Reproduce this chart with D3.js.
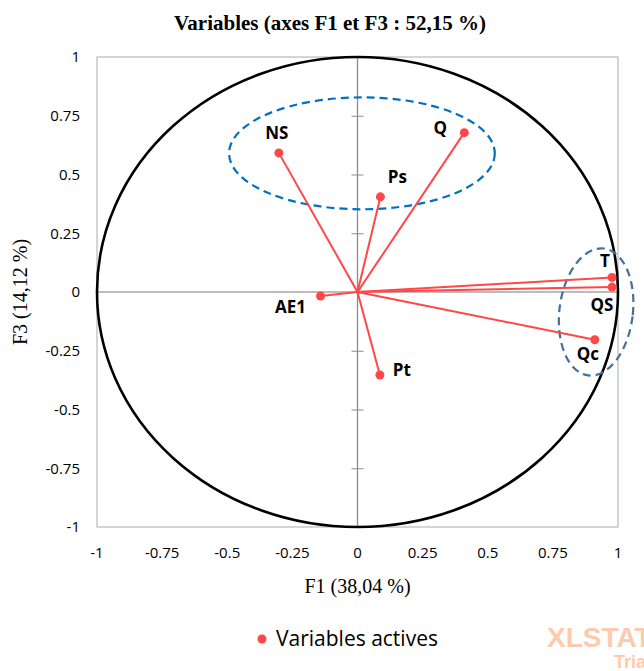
<!DOCTYPE html>
<html>
<head>
<meta charset="utf-8">
<script src="https://cdn.jsdelivr.net/npm/d3@7"></script>
<style>
  body { margin: 0; background: #fff; }
  svg { display: block; }
  .tick-label { font-family: 'Open Sans', sans-serif; font-size: 15px; fill: #000; }
  .var-label { font-family: 'Open Sans', sans-serif; font-weight: bold; font-size: 17px; fill: #000; }
  .serif { font-family: 'Liberation Serif', 'Times New Roman', serif; fill: #000; }
</style>
</head>
<body>
<svg id="chart"></svg>
<script>
// variable names and their coordinates on F1 / F3
const variables = ['NS', 'Q', 'Ps', 'AE1', 'Pt', 'T', 'QS', 'Qc'];
const f1Values = [-0.302, 0.410, 0.088, -0.142, 0.086, 0.977, 0.977, 0.911];
const f3Values = [0.592, 0.678, 0.405, -0.017, -0.353, 0.062, 0.021, -0.203];
const tickValues = [-1, -0.75, -0.5, -0.25, 0, 0.25, 0.5, 0.75, 1];

// label placement next to each point (pixels)
const labelOffsets = {
  NS: [-2, -14], Q: [-24, 1], Ps: [17, -14], AE1: [-30, 17],
  Pt: [22, 1], T: [-7, -10], QS: [-10, 24], Qc: [-7, 20]
};

const W = 644, H = 671;
const margin = { top: 57, right: 26, bottom: 144, left: 97 };
const width = W - margin.left - margin.right;
const height = H - margin.top - margin.bottom;

const svg = d3.select('#chart').attr('width', W).attr('height', H);

const x = d3.scaleLinear().domain([-1, 1]).range([margin.left, margin.left + width]);
const y = d3.scaleLinear().domain([-1, 1]).range([margin.top + height, margin.top]);

// title
svg.append('text')
  .attr('class', 'serif')
  .attr('x', 330).attr('y', 30)
  .attr('text-anchor', 'middle')
  .style('font-size', '21px').style('font-weight', 'bold')
  .text('Variables (axes F1 et F3 : 52,15 %)');

// plot border
svg.append('rect')
  .attr('x', x(-1)).attr('y', y(1))
  .attr('width', x(1) - x(-1)).attr('height', y(-1) - y(1))
  .attr('fill', 'none').attr('stroke', '#BFBFBF').attr('stroke-width', 1.3);

// zero axes, tick crosses only on the vertical one
svg.append('line')
  .attr('x1', x(-1)).attr('x2', x(1)).attr('y1', y(0)).attr('y2', y(0))
  .attr('stroke', '#A6A6A6').attr('stroke-width', 1.3);
svg.append('line')
  .attr('x1', x(0)).attr('x2', x(0)).attr('y1', y(1)).attr('y2', y(-1))
  .attr('stroke', '#8C8C8C').attr('stroke-width', 1.3);

svg.append('g').attr('transform', `translate(${x(0) + 6},0)`)
  .call(d3.axisLeft(y).tickValues(tickValues).tickSize(12).tickFormat(''))
  .call(g => g.select('.domain').remove())
  .call(g => g.selectAll('line').attr('stroke', '#8C8C8C'));

// tick labels outside the plot
svg.append('g').selectAll('text').data(tickValues).join('text')
  .attr('class', 'tick-label')
  .attr('x', margin.left - 17).attr('y', d => y(d)).attr('dy', '0.35em')
  .attr('text-anchor', 'end')
  .text(d => String(d));
svg.append('g').selectAll('text').data(tickValues).join('text')
  .attr('class', 'tick-label')
  .attr('x', d => x(d)).attr('y', y(-1) + 26).attr('dy', '0.35em')
  .attr('text-anchor', 'middle')
  .text(d => String(d));

// axis titles
svg.append('text')
  .attr('class', 'serif')
  .attr('x', x(0)).attr('y', y(-1) + 66)
  .attr('text-anchor', 'middle').style('font-size', '20px')
  .text('F1 (38,04 %)');
svg.append('text')
  .attr('class', 'serif')
  .attr('transform', `translate(27,${y(0)}) rotate(-90)`)
  .attr('text-anchor', 'middle').style('font-size', '20px')
  .text('F3 (14,12 %)');

// correlation circle
svg.append('ellipse')
  .attr('cx', x(0)).attr('cy', y(0))
  .attr('rx', x(1) - x(0)).attr('ry', y(0) - y(1))
  .attr('fill', 'none').attr('stroke', '#000').attr('stroke-width', 2.6);

// group ellipses (dashed)
svg.append('ellipse')
  .attr('cx', x(0.017)).attr('cy', y(0.59))
  .attr('rx', x(0.51) - x(0)).attr('ry', y(0) - y(0.238))
  .attr('fill', 'none').attr('stroke', '#0070C0').attr('stroke-width', 2.2)
  .attr('stroke-dasharray', '8,5');
svg.append('ellipse')
  .attr('cx', x(0.916)).attr('cy', y(-0.085))
  .attr('rx', x(0.141) - x(0)).attr('ry', y(0) - y(0.272))
  .attr('transform', `rotate(7,${x(0.916)},${y(-0.085)})`)
  .attr('fill', 'none').attr('stroke', '#41719C').attr('stroke-width', 2.2)
  .attr('stroke-dasharray', '8,5');

// vectors
const points = variables.map((name, i) => ({ name, f1: f1Values[i], f3: f3Values[i] }));

svg.append('g').selectAll('line').data(points).join('line')
  .attr('x1', x(0)).attr('y1', y(0))
  .attr('x2', d => x(d.f1)).attr('y2', d => y(d.f3))
  .attr('stroke', '#FF4747').attr('stroke-width', 2);

svg.append('g').selectAll('circle').data(points).join('circle')
  .attr('cx', d => x(d.f1)).attr('cy', d => y(d.f3))
  .attr('r', 4.5).attr('fill', '#FF4747');

svg.append('g').selectAll('text').data(points).join('text')
  .attr('class', 'var-label')
  .attr('x', d => x(d.f1) + labelOffsets[d.name][0])
  .attr('y', d => y(d.f3) + labelOffsets[d.name][1])
  .attr('text-anchor', 'middle')
  .text(d => d.name);

// legend
svg.append('circle').attr('cx', 262).attr('cy', 639).attr('r', 4.5).attr('fill', '#FF4747');
svg.append('text')
  .attr('x', 276).attr('y', 646)
  .style('font-family', "'Open Sans', sans-serif").style('font-size', '21px')
  .attr('fill', '#000')
  .text('Variables actives');

// watermark
svg.append('text')
  .attr('x', 547).attr('y', 647)
  .style('font-family', "'Liberation Sans', sans-serif").style('font-size', '28px')
  .style('font-weight', 'bold').attr('fill', '#FCCBAE')
  .text('XLSTAT');
svg.append('text')
  .attr('x', 614).attr('y', 668)
  .style('font-family', "'Liberation Sans', sans-serif").style('font-size', '18px')
  .style('font-weight', 'bold').attr('fill', '#FCCBAE')
  .text('Trial');
</script>
</body>
</html>
